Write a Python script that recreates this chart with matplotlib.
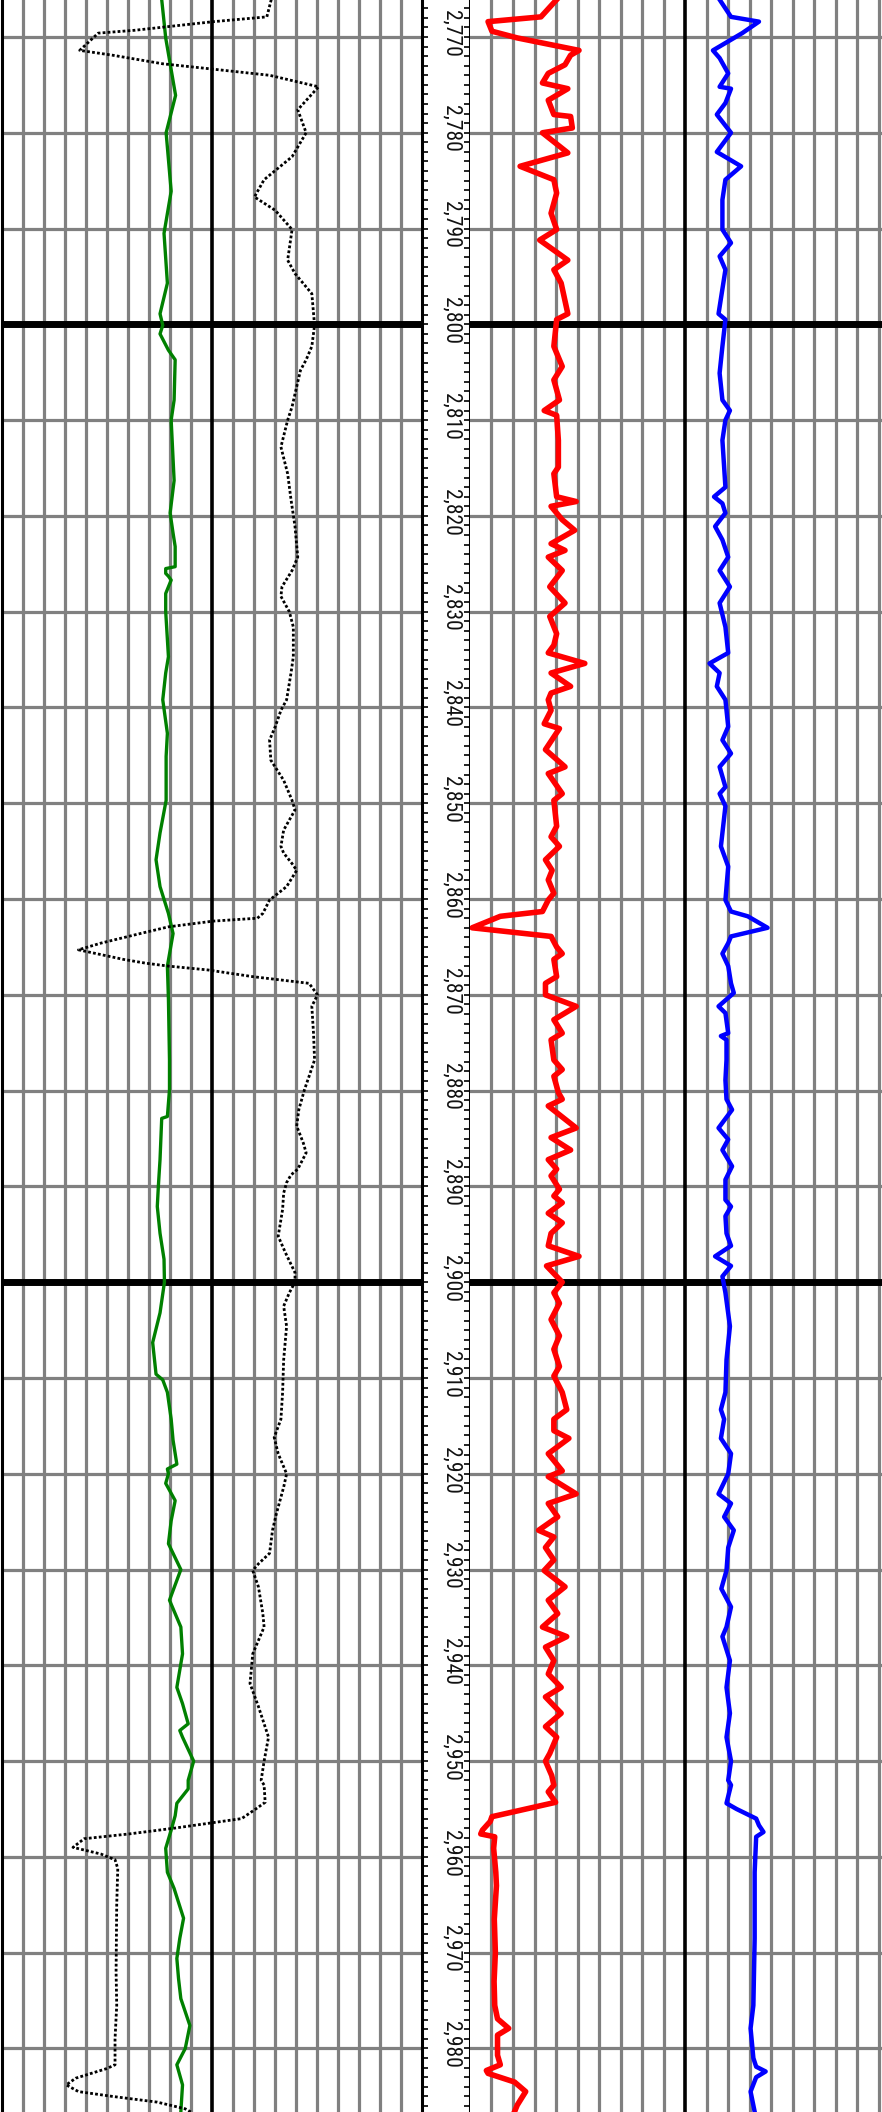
import matplotlib
matplotlib.use('Agg')
import matplotlib.pyplot as plt
from matplotlib.ticker import MultipleLocator
from matplotlib import font_manager as fm

# ---------------- data ----------------
depth_labels = [2770, 2780, 2790, 2800, 2810, 2820, 2830, 2840, 2850, 2860,
                2870, 2880, 2890, 2900, 2910, 2920, 2930, 2940, 2950, 2960,
                2970, 2980]

green_depth = [2766.1, 2770.1, 2776.1, 2780.0, 2786.1, 2790.5, 2795.7, 2798.9, 2800.1, 2801.0,
               2802.7, 2803.7, 2807.9, 2810.0, 2816.3, 2819.7, 2821.8, 2823.2, 2825.3, 2825.5,
               2826.0, 2826.3, 2826.7, 2828.1, 2830.0, 2834.7, 2836.4, 2839.2, 2842.7, 2845.1,
               2849.7, 2853.1, 2855.9, 2858.7, 2861.5, 2863.6, 2867.0, 2870.5, 2876.8, 2879.9,
               2882.7, 2882.9, 2887.2, 2890.0, 2892.1, 2894.9, 2897.6, 2900.0, 2903.2, 2906.3,
               2909.6, 2910.2, 2911.5, 2914.3, 2916.5, 2919.0, 2919.5, 2920.0, 2921.0, 2922.8,
               2924.9, 2927.3, 2930.0, 2933.2, 2936.0, 2938.8, 2942.3, 2944.0, 2946.1, 2946.8,
               2947.5, 2950.0, 2952.0, 2952.9, 2954.4, 2955.7, 2957.2, 2959.1, 2961.6, 2963.3,
               2966.4, 2968.5, 2970.6, 2972.7, 2974.8, 2977.6, 2980.0, 2981.7, 2983.8, 2986.6]
green_val = [76.2, 78.1, 82.8, 78.3, 80.7, 77.3, 78.9, 75.4, 76.7, 75.4,
             79.4, 82.6, 82.1, 80.7, 82.1, 80.2, 81.6, 82.6, 82.6, 78.1,
             78.1, 79.4, 80.7, 78.1, 78.1, 79.4, 78.1, 76.7, 78.9, 78.3,
             78.3, 75.4, 73.5, 75.4, 79.4, 81.6, 78.9, 79.4, 79.9, 79.9,
             78.9, 76.2, 75.4, 74.6, 74.1, 75.4, 77.3, 77.5, 75.4, 71.9,
             73.5, 76.7, 78.9, 80.7, 81.6, 83.4, 78.9, 79.4, 78.1, 82.6,
             80.7, 79.4, 85.3, 79.9, 85.3, 86.1, 83.4, 86.1, 88.8, 84.8,
             86.1, 91.4, 88.8, 88.8, 83.4, 82.6, 80.7, 78.1, 78.9, 82.1,
             86.6, 84.8, 83.4, 84.2, 85.3, 89.6, 87.4, 83.4, 86.1, 85.3]

black_depth = [2766.1, 2767.9, 2768.4, 2769.3, 2769.6, 2771.4, 2771.9, 2772.8, 2773.3, 2774.0,
               2775.2, 2777.6, 2780.0, 2782.5, 2784.9, 2786.7, 2788.1, 2790.1, 2793.3, 2794.7,
               2796.8, 2800.1, 2802.3, 2803.7, 2804.8, 2808.6, 2810.0, 2812.8, 2815.6, 2818.3,
               2821.1, 2824.3, 2825.7, 2827.4, 2828.4, 2830.0, 2831.6, 2834.7, 2836.4, 2839.2,
               2840.3, 2842.0, 2843.4, 2845.5, 2847.6, 2849.7, 2850.7, 2852.8, 2854.5, 2855.2,
               2856.3, 2857.0, 2858.7, 2860.1, 2861.5, 2862.0, 2862.3, 2862.9, 2863.6, 2864.6,
               2865.3, 2866.3, 2866.7, 2867.0, 2867.4, 2868.1, 2868.8, 2870.0, 2871.2, 2874.0,
               2876.8, 2878.5, 2879.9, 2882.0, 2883.7, 2885.5, 2886.5, 2888.2, 2888.8, 2889.6,
               2890.7, 2892.4, 2895.2, 2896.9, 2899.0, 2900.0, 2901.1, 2902.5, 2904.6, 2908.1,
               2911.5, 2914.3, 2916.2, 2917.9, 2920.0, 2921.4, 2924.2, 2925.9, 2928.3, 2929.4,
               2930.1, 2931.8, 2934.6, 2936.0, 2938.8, 2941.9, 2944.3, 2947.5, 2950.0, 2952.0,
               2952.5, 2954.3, 2955.0, 2956.0, 2956.5, 2957.0, 2957.6, 2958.1, 2959.0, 2959.7,
               2960.3, 2961.2, 2965.0, 2972.0, 2975.5, 2979.0, 2981.7, 2982.1, 2983.1, 2983.8,
               2984.5, 2985.0, 2985.6, 2986.3, 2987.0]
black_val = [128.3, 126.2, 100.8, 63.4, 46.0, 37.2, 52.7, 76.7, 98.1, 127.5,
             150.8, 140.9, 144.9, 138.2, 124.9, 120.3, 130.2, 138.2, 136.1, 139.6,
             147.6, 148.9, 147.6, 144.9, 142.2, 138.2, 136.1, 132.9, 136.1, 137.7,
             139.6, 140.9, 138.2, 133.4, 132.9, 136.9, 138.8, 138.8, 137.7, 135.6,
             132.9, 130.2, 127.5, 128.1, 134.2, 138.2, 139.6, 134.2, 132.9, 134.2,
             138.2, 140.4, 135.6, 127.5, 124.3, 121.7, 100.8, 79.4, 66.0, 47.3,
             36.6, 58.0, 68.7, 79.4, 98.1, 119.5, 146.3, 150.3, 147.6, 148.4,
             148.9, 146.3, 144.1, 141.4, 140.4, 143.6, 144.9, 140.9, 137.7, 135.6,
             134.2, 133.7, 131.6, 135.0, 139.6, 139.6, 136.9, 134.2, 135.6, 134.2,
             133.7, 132.9, 129.7, 131.6, 135.6, 134.2, 130.7, 128.9, 127.5, 122.2,
             119.5, 122.2, 124.3, 124.9, 119.5, 118.2, 122.2, 127.0, 124.9, 123.5,
             124.9, 125.4, 120.9, 114.2, 98.1, 82.1, 60.7, 39.3, 34.0, 47.3,
             54.0, 55.3, 54.8, 54.5, 54.8, 54.0, 54.0, 50.0, 35.3, 30.8,
             36.6, 52.7, 74.1, 87.4, 93.0]

red_depth = [2766.1, 2767.9, 2768.4, 2769.4, 2770.1, 2771.4, 2771.9, 2772.9, 2773.8, 2774.8,
             2775.4, 2776.6, 2778.1, 2778.3, 2779.5, 2780.0, 2782.1, 2783.5, 2784.9, 2786.3,
             2788.4, 2790.1, 2791.2, 2793.3, 2794.3, 2795.7, 2798.9, 2799.5, 2802.3, 2803.0,
             2804.4, 2805.8, 2807.9, 2809.0, 2809.5, 2812.1, 2814.9, 2815.6, 2818.0, 2818.5,
             2819.0, 2820.4, 2821.5, 2822.9, 2823.6, 2824.3, 2825.7, 2827.4, 2829.1, 2830.5,
             2832.3, 2833.5, 2834.3, 2835.4, 2836.4, 2837.8, 2838.5, 2839.2, 2840.3, 2841.7,
             2842.2, 2844.4, 2846.2, 2846.9, 2849.0, 2849.7, 2852.4, 2853.5, 2854.5, 2855.9,
             2857.0, 2858.0, 2859.4, 2860.1, 2861.3, 2861.8, 2863.0, 2863.9, 2865.0, 2865.7,
             2866.3, 2868.1, 2868.8, 2870.0, 2871.2, 2872.6, 2874.0, 2874.7, 2876.8, 2877.8,
             2878.5, 2880.2, 2880.9, 2881.6, 2883.9, 2884.9, 2886.2, 2887.2, 2888.2, 2888.9,
             2890.3, 2891.0, 2891.7, 2892.8, 2893.8, 2894.9, 2896.2, 2897.3, 2898.3, 2899.4,
             2900.0, 2901.1, 2902.2, 2903.9, 2905.6, 2907.0, 2908.8, 2909.8, 2911.5, 2913.3,
             2914.3, 2915.5, 2916.3, 2917.9, 2919.7, 2920.3, 2922.1, 2923.1, 2924.5, 2925.9,
             2926.6, 2927.7, 2929.0, 2930.1, 2931.8, 2933.2, 2934.6, 2936.0, 2937.0, 2938.1,
             2939.5, 2940.9, 2942.3, 2943.3, 2945.0, 2946.4, 2947.5, 2949.2, 2950.0, 2951.5,
             2952.5, 2953.2, 2954.3, 2955.8, 2956.3, 2957.2, 2957.6, 2957.9, 2959.1, 2961.6,
             2963.0, 2966.5, 2970.0, 2973.0, 2975.5, 2976.9, 2977.9, 2978.6, 2980.7, 2981.7,
             2982.3, 2982.6, 2983.5, 2984.5, 2985.9, 2986.6]
red_val = [40.3, 33.0, 8.4, 10.2, 22.0, 50.7, 46.8, 44.2, 36.4, 33.7,
           45.5, 36.4, 39.0, 46.8, 47.6, 33.7, 45.5, 23.3, 39.0, 40.3,
           37.7, 40.3, 32.4, 45.5, 39.0, 42.4, 45.5, 40.3, 39.0, 40.3,
           42.9, 39.0, 41.6, 34.5, 40.3, 41.1, 41.1, 39.0, 40.3, 49.4,
           37.7, 42.9, 48.7, 37.7, 44.2, 36.4, 42.9, 37.1, 44.2, 37.1,
           40.3, 39.0, 36.4, 53.4, 37.7, 46.8, 37.7, 36.4, 37.7, 34.5,
           41.6, 35.1, 44.2, 36.4, 42.9, 39.0, 40.3, 37.7, 41.6, 35.1,
           38.2, 36.4, 39.0, 36.4, 33.7, 14.1, 1.0, 37.7, 40.3, 42.9,
           39.0, 40.3, 35.1, 35.1, 49.4, 39.0, 42.9, 37.7, 39.0, 42.9,
           39.0, 41.1, 42.9, 36.4, 49.4, 37.7, 46.8, 36.4, 40.3, 37.7,
           41.6, 39.0, 42.9, 36.4, 42.9, 37.7, 36.4, 50.7, 35.6, 40.3,
           42.9, 39.0, 41.6, 37.7, 41.6, 39.0, 41.6, 39.0, 42.9, 45.0,
           39.0, 39.0, 46.0, 36.4, 42.9, 36.4, 49.4, 36.4, 40.8, 31.9,
           39.0, 35.1, 39.0, 34.5, 44.2, 36.4, 40.8, 33.7, 45.0, 35.1,
           39.0, 36.4, 42.4, 35.1, 42.4, 35.1, 40.3, 37.1, 35.1, 38.0,
           39.0, 36.4, 39.8, 10.2, 9.4, 5.8, 5.0, 11.5, 11.0, 12.0,
           12.3, 11.3, 11.8, 11.2, 11.5, 12.8, 18.0, 12.8, 12.8, 14.1,
           7.6, 8.4, 20.7, 25.9, 22.0, 20.7]

blue_depth = [2766.1, 2767.9, 2768.4, 2769.6, 2771.4, 2772.2, 2773.8, 2775.2, 2775.4, 2776.9,
              2778.1, 2780.0, 2782.0, 2783.5, 2784.9, 2787.0, 2790.1, 2791.5, 2792.9, 2794.3,
              2798.9, 2799.5, 2802.3, 2805.1, 2807.9, 2809.0, 2810.0, 2812.1, 2817.0, 2818.0,
              2818.7, 2819.7, 2821.1, 2822.5, 2824.3, 2825.7, 2827.4, 2829.1, 2831.6, 2834.3,
              2835.4, 2836.4, 2837.8, 2839.2, 2842.0, 2843.4, 2844.8, 2846.2, 2848.3, 2849.0,
              2850.3, 2853.1, 2854.5, 2856.6, 2860.1, 2861.3, 2861.8, 2863.0, 2863.9, 2864.6,
              2865.7, 2867.0, 2868.8, 2869.8, 2871.2, 2871.9, 2874.0, 2874.3, 2874.7, 2876.8,
              2878.9, 2880.9, 2882.0, 2883.9, 2885.1, 2886.2, 2887.9, 2889.3, 2891.4, 2892.1,
              2893.1, 2894.9, 2896.2, 2897.3, 2898.3, 2899.4, 2901.1, 2904.6, 2908.1, 2911.5,
              2913.3, 2914.3, 2916.3, 2917.9, 2920.0, 2922.1, 2923.1, 2924.5, 2925.9, 2927.7,
              2930.1, 2932.0, 2933.9, 2936.0, 2937.0, 2939.5, 2942.3, 2945.0, 2947.5, 2950.0,
              2952.0, 2952.5, 2954.4, 2955.0, 2956.0, 2956.7, 2957.4, 2957.9, 2961.6, 2968.5,
              2975.5, 2977.9, 2981.0, 2981.9, 2982.4, 2983.0, 2984.5, 2986.6]
blue_val = [116.1, 121.4, 134.4, 126.6, 113.0, 116.1, 120.1, 116.1, 121.4, 118.8,
            114.8, 121.4, 114.8, 126.1, 118.8, 117.4, 117.4, 121.4, 116.1, 118.8,
            115.6, 118.8, 117.4, 116.1, 117.4, 120.9, 118.8, 117.4, 118.8, 113.5,
            117.4, 118.8, 114.0, 117.4, 120.1, 116.1, 120.9, 116.1, 118.8, 120.1,
            111.4, 116.1, 114.8, 118.8, 120.1, 117.4, 121.4, 116.1, 118.8, 116.1,
            118.8, 117.4, 116.7, 120.1, 118.8, 121.4, 129.2, 138.4, 121.4, 120.1,
            117.4, 120.1, 121.4, 122.7, 115.6, 118.8, 120.1, 116.7, 119.3, 119.3,
            118.8, 119.3, 121.9, 115.6, 120.1, 117.4, 121.9, 118.8, 118.8, 121.4,
            118.8, 119.3, 121.4, 114.0, 121.4, 117.4, 118.8, 120.9, 119.3, 118.8,
            116.7, 118.2, 116.7, 121.4, 120.1, 115.6, 121.4, 118.2, 122.7, 120.1,
            119.3, 116.9, 121.4, 119.3, 117.4, 120.9, 119.3, 120.9, 119.3, 121.4,
            120.1, 121.4, 119.3, 124.0, 133.1, 134.4, 136.5, 133.1, 132.4, 132.4,
            131.8, 130.5, 131.8, 133.1, 137.5, 133.1, 130.5, 132.4]

# ---------------- label font (narrow sans if available) ----------------
def _is_regular(f):
    return f.style == 'normal' and f.weight in (400, 'normal', 'regular', 'book')

def pick_label_font():
    fonts = fm.fontManager.ttflist
    for name in ('Liberation Sans Narrow', 'Arial Narrow', 'Roboto Condensed',
                 'Open Sans Condensed'):
        for f in fonts:
            if f.name == name and _is_regular(f):
                return fm.FontProperties(fname=f.fname)
    for f in fonts:
        if f.name == 'DejaVu Sans' and f.stretch == 'condensed' and _is_regular(f):
            return fm.FontProperties(fname=f.fname)
    return fm.FontProperties(family=['Liberation Sans', 'DejaVu Sans'])

label_font = pick_label_font()
label_font.set_size(14)

# ---------------- figure ----------------
W, H = 882, 2112
top_depth, bottom_depth = 2766.14, 2986.63
GRAY = '#808080'

fig = plt.figure(figsize=(W / 100, H / 100), dpi=100)
ax1 = fig.add_axes([1.5 / W, 0, 420.5 / W, 1])
axd = fig.add_axes([422 / W, 0, 48 / W, 1])
ax2 = fig.add_axes([470 / W, 0, 430 / W, 1])

for ax in (ax1, ax2):
    ax.set_xlim(0, 200)
    ax.set_ylim(bottom_depth, top_depth)
    ax.set_xticks([])
    ax.set_yticks([])
    for s in ax.spines.values():
        s.set_visible(False)
    for x in range(10, 200, 10):
        if x == 100:
            ax.axvline(x, color='black', lw=2.6, zorder=1.5)
        else:
            ax.axvline(x, color=GRAY, lw=2.3, zorder=1)
    for d in range(2770, 2990, 10):
        if d % 100 == 0:
            ax.axhline(d, color='black', lw=5.0, zorder=2)
        else:
            ax.axhline(d, color=GRAY, lw=2.3, zorder=1.2)

ax1.spines['left'].set_visible(True)
ax1.spines['left'].set_linewidth(2.2)
ax1.spines['left'].set_color('black')

# depth track
axd.set_xlim(0, 1)
axd.set_ylim(bottom_depth, top_depth)
axd.set_xticks([])
axd.spines['top'].set_visible(False)
axd.spines['bottom'].set_visible(False)
for side in ('left', 'right'):
    axd.spines[side].set_linewidth(2.2)
    axd.spines[side].set_color('black')
axd.yaxis.set_major_locator(MultipleLocator(10))
axd.yaxis.set_minor_locator(MultipleLocator(1))
axd.tick_params(axis='y', which='both', direction='in', left=True, right=True,
                length=4, width=1.2, color='black', labelleft=False, labelright=False)
label_texts = []
for d in depth_labels:
    t = axd.text(0.615, d - 0.4, f"{d:,}", rotation=270, ha='center', va='center',
                 fontproperties=label_font, color='#111111')
    label_texts.append(t)

# scale label size so that "2,800" runs ~47 px along the track, as in the reference
renderer = fig.canvas.get_renderer()
bb = label_texts[3].get_window_extent(renderer)
if bb.height > 0:
    new_size = 14 * 47.0 / bb.height
    for t in label_texts:
        t.set_fontsize(new_size)

# curves
ax1.plot(green_val, green_depth, color='green', lw=2.4, zorder=5)
ax1.plot(black_val, black_depth, color='black', lw=2.0, dashes=(1.0, 0.8),
         dash_capstyle='butt', zorder=5)
ax2.plot(red_val, red_depth, color='red', lw=4.0, zorder=5)
ax2.plot(blue_val, blue_depth, color='blue', lw=3.2, zorder=5)

fig.savefig('out.png', dpi=100)
